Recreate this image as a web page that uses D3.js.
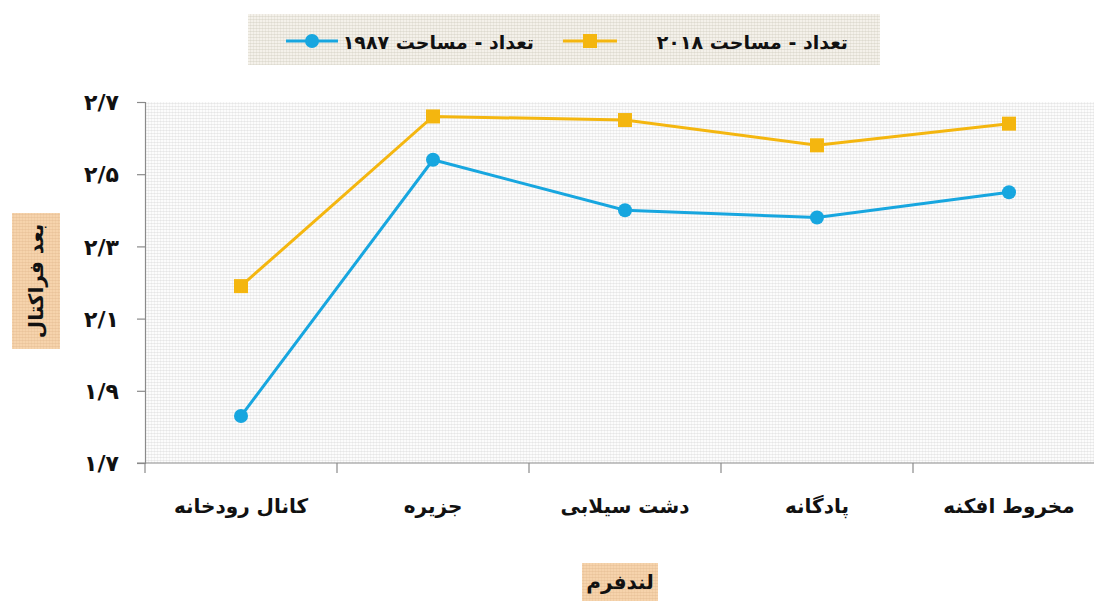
<!DOCTYPE html>
<html><head><meta charset="utf-8">
<script src="https://cdn.jsdelivr.net/npm/d3@7"></script>
<style>
html,body{margin:0;padding:0;background:#fff;}
svg text{font-family:"DejaVu Sans",sans-serif;font-weight:bold;fill:#111;}
</style></head>
<body>
<svg id="c" width="1094" height="603"></svg>
<script>
const categories = ["کانال رودخانه","جزیره","دشت سیلابی","پادگانه","مخروط افکنه"];
const series1987 = [1.83, 2.54, 2.40, 2.38, 2.45];
const series2018 = [2.19, 2.66, 2.65, 2.58, 2.64];
const yTicks = [1.7, 1.9, 2.1, 2.3, 2.5, 2.7];
const seriesNames = ["تعداد - مساحت ۱۹۸۷", "تعداد - مساحت ۲۰۱۸"];
const yTitle = "بعد فراکتال";
const xTitle = "لندفرم";

const toFa = s => String(s).replace(/[0-9]/g, d => "۰۱۲۳۴۵۶۷۸۹"[d]).replace(".", "/");

const svg = d3.select("#c");
const defs = svg.append("defs");
function linen(id, base, line){
  const p = defs.append("pattern").attr("id", id).attr("patternUnits","userSpaceOnUse").attr("width",6).attr("height",6);
  p.append("rect").attr("width",6).attr("height",6).attr("fill",base);
  p.append("path").attr("d","M0 1.5H6 M0 4.5H6").attr("stroke",line).attr("stroke-width",0.7).attr("opacity",0.5);
  p.append("path").attr("d","M1.5 0V6 M4.5 0V6").attr("stroke",line).attr("stroke-width",0.6).attr("opacity",0.4);
}
linen("tex", "#fcfcfc", "#d0d0d0");
linen("tex2", "#f4f1ea", "#c8c4b8");
linen("tan", "#f6d3ac", "#dfb58a");

const pLeft = 145, pTop = 102, pBottom = 463, bandW = 192;
const x = d3.scaleBand().domain(categories).range([pLeft, pLeft + bandW*categories.length]).paddingInner(0).paddingOuter(0);
const y = d3.scaleLinear().domain([1.7, 2.7]).range([pBottom, pTop]);

svg.append("rect").attr("x", pLeft).attr("y", pTop).attr("width", 1094-pLeft).attr("height", pBottom-pTop).attr("fill","url(#tex)");

const yAxis = svg.append("g").attr("transform",`translate(${pLeft},0)`)
  .call(d3.axisLeft(y).tickValues(yTicks).tickSize(8).tickFormat(d => toFa(d3.format(".1f")(d))));
yAxis.select(".domain").attr("stroke","#8a8a8a").attr("stroke-width",1.2);
yAxis.selectAll(".tick line").attr("stroke","#8a8a8a").attr("stroke-width",1.2);
yAxis.selectAll(".tick text").attr("x",-26).attr("font-size",22).attr("fill","#111").attr("dy","0.35em");

const xg = svg.append("g").attr("transform",`translate(0,${pBottom})`);
xg.append("line").attr("x1",pLeft-8).attr("x2",1094).attr("stroke","#8a8a8a").attr("stroke-width",1.2);
const bounds = d3.range(categories.length+1).map(i => pLeft + i*x.bandwidth());
xg.selectAll(".xt").data(bounds).join("line").attr("x1",d=>d).attr("x2",d=>d).attr("y1",0).attr("y2",10)
  .attr("stroke","#8a8a8a").attr("stroke-width",1.2);
xg.selectAll(".xl").data(categories).join("text")
  .attr("x", d => x(d) + x.bandwidth()/2).attr("y", 50).attr("text-anchor","middle")
  .attr("font-size",20).attr("direction","rtl").text(d=>d);

const cx = d => x(d) + x.bandwidth()/2;
const line = d3.line().x(d => cx(d.c)).y(d => y(d.v));
const blue = "#17a6df", gold = "#f4b60f";
const d87 = categories.map((c,i)=>({c, v: series1987[i]}));
const d18 = categories.map((c,i)=>({c, v: series2018[i]}));
svg.append("path").datum(d18).attr("d",line).attr("fill","none").attr("stroke",gold).attr("stroke-width",3);
svg.append("path").datum(d87).attr("d",line).attr("fill","none").attr("stroke",blue).attr("stroke-width",3);
svg.selectAll(".sq").data(d18).join("rect").attr("x",d=>cx(d.c)-7).attr("y",d=>y(d.v)-7).attr("width",14).attr("height",14).attr("fill",gold);
svg.selectAll(".ci").data(d87).join("circle").attr("cx",d=>cx(d.c)).attr("cy",d=>y(d.v)).attr("r",7).attr("fill",blue);

svg.append("rect").attr("x",248).attr("y",14).attr("width",632).attr("height",51).attr("fill","url(#tex2)");
const lg = svg.append("g");
lg.append("line").attr("x1",286).attr("x2",338).attr("y1",41).attr("y2",41).attr("stroke",blue).attr("stroke-width",3);
lg.append("circle").attr("cx",312).attr("cy",41).attr("r",7).attr("fill",blue);
lg.append("text").attr("x",534).attr("y",49).attr("text-anchor","start").attr("direction","rtl").attr("font-size",19).text(seriesNames[0]);
lg.append("line").attr("x1",563).attr("x2",617).attr("y1",41).attr("y2",41).attr("stroke",gold).attr("stroke-width",3);
lg.append("rect").attr("x",583).attr("y",34).attr("width",14).attr("height",14).attr("fill",gold);
lg.append("text").attr("x",848).attr("y",49).attr("text-anchor","start").attr("direction","rtl").attr("font-size",19).text(seriesNames[1]);

svg.append("rect").attr("x",12).attr("y",213).attr("width",48).attr("height",136).attr("fill","url(#tan)");
svg.append("text").attr("transform","translate(43,281) rotate(-90)").attr("text-anchor","middle").attr("font-size",20).attr("direction","rtl").text(yTitle);

svg.append("rect").attr("x",582).attr("y",563).attr("width",76).attr("height",38).attr("fill","url(#tan)");
svg.append("text").attr("x",620).attr("y",589).attr("text-anchor","middle").attr("font-size",20).attr("direction","rtl").text(xTitle);
</script>
</body></html>
